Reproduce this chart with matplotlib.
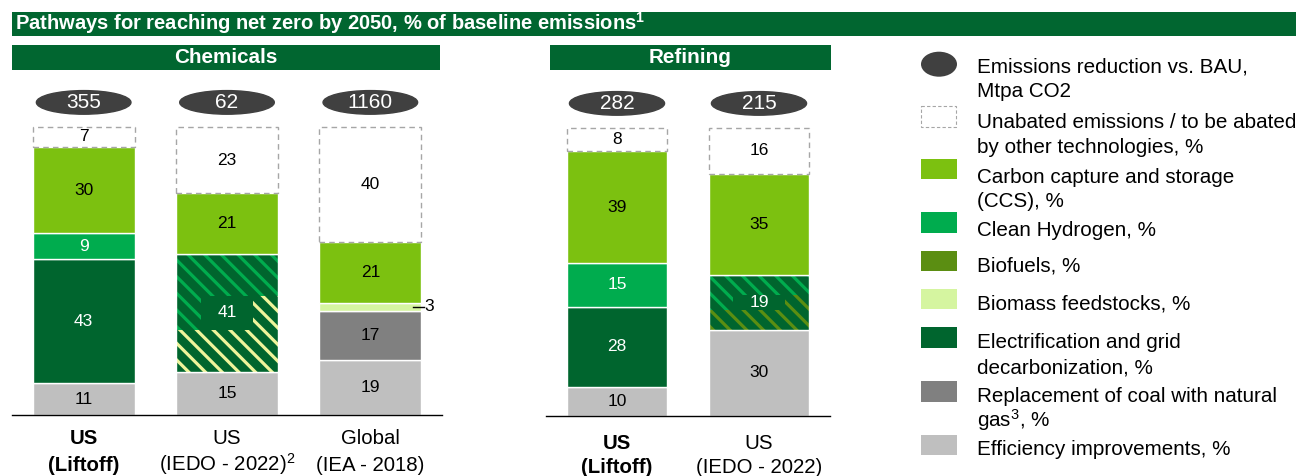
import matplotlib
matplotlib.use('Agg')
import matplotlib.pyplot as plt
from matplotlib.patches import Rectangle, Ellipse
import numpy as np

plt.rcParams['font.family'] = ['Liberation Sans', 'DejaVu Sans']
plt.rcParams['mathtext.fontset'] = 'custom'
plt.rcParams['mathtext.rm'] = 'Liberation Sans'
plt.rcParams['mathtext.bf'] = 'Liberation Sans:bold'
plt.rcParams['mathtext.default'] = 'regular'
plt.rcParams['hatch.linewidth'] = 2.3

W, H = 1299, 476

# ---------------- data ----------------
title = "Pathways for reaching net zero by 2050, % of baseline emissions$^{1}$"
chem_title = "Chemicals"
ref_title = "Refining"

chem_top_labels = ["US", "US", "Global"]
chem_bottom_labels = ["(Liftoff)", "(IEDO - 2022)$^{2}$", "(IEA - 2018)"]
chem_bold = [True, False, False]
chem_reduction = [355, 62, 1160]
chem_efficiency = [11, 15, 19]
chem_coal_to_gas = [0, 0, 17]
chem_electrification = [43, 0, 0]
chem_mixed = [0, 41, 0]
chem_biomass = [0, 0, 3]
chem_hydrogen = [9, 0, 0]
chem_ccs = [30, 21, 21]
chem_unabated = [7, 23, 40]

ref_top_labels = ["US", "US"]
ref_bottom_labels = ["(Liftoff)", "(IEDO - 2022)"]
ref_bold = [True, False]
ref_reduction = [282, 215]
ref_efficiency = [10, 30]
ref_coal_to_gas = [0, 0]
ref_electrification = [28, 0]
ref_mixed = [0, 19]
ref_biomass = [0, 0]
ref_hydrogen = [15, 0]
ref_ccs = [39, 35]
ref_unabated = [8, 16]

legend_labels = [
    ["Emissions reduction vs. BAU,", "Mtpa CO2"],
    ["Unabated emissions / to be abated", "by other technologies, %"],
    ["Carbon capture and storage", "(CCS), %"],
    ["Clean Hydrogen, %"],
    ["Biofuels, %"],
    ["Biomass feedstocks, %"],
    ["Electrification and grid", "decarbonization, %"],
    ["Replacement of coal with natural", "gas$^{3}$, %"],
    ["Efficiency improvements, %"],
]

# ---------------- styles ----------------
GREEN_HDR = '#016630'
ELEC = '#00652E'
H2 = '#00AC4E'
CCS = '#7CC110'
BIOFUEL = '#5B8E12'
BIOMASS = '#D5F5A0'
COAL = '#808080'
EFF = '#BFBFBF'
ELLIPSE = '#404040'
STRIPE_YELLOW = '#EEF59B'
DASH = '#A6A6A6'
BAR_W = 0.71
PX = 2.88  # pixels per percentage point
VAL_FS = 12.5
NUM_FS = 15
CAT_FS = 14.7
LEG_FS = 14.9

fig = plt.figure(figsize=(W / 100, H / 100), dpi=100)


def draw_panel(ax, stack, reduction, tops, bottoms, bold, mixed_colors, box_h, box_w,
               ell_w, cat_y1, cat_y2):
    n = len(reduction)
    x = np.arange(n)
    base = np.zeros(n)
    for vals, kind, color, tcolor in stack:
        vals = np.asarray(vals, float)
        for i in range(n):
            v = vals[i]
            if v <= 0:
                continue
            b = base[i]
            if kind == 'solid':
                ax.bar(x[i], v, BAR_W, b, color=color, edgecolor='white', lw=1)
            elif kind == 'unabated':
                ax.bar(x[i], v, BAR_W, b, facecolor='white', edgecolor=DASH, lw=1,
                       linestyle=(0, (4, 3)))
            elif kind == 'mixed':
                c_top, c_bot = mixed_colors
                mid = b + v / 2
                lo, hi = mid - box_h / 2, mid + box_h / 2
                ax.bar(x[i], v, BAR_W, b, color=ELEC, lw=0)
                ax.bar(x[i], b + v - lo, BAR_W, lo, facecolor=ELEC, edgecolor=c_top,
                       hatch='\\\\', lw=0)
                ax.bar(x[i], lo - b, BAR_W, b, facecolor=ELEC, edgecolor=c_bot,
                       hatch='\\\\', lw=0)
                right_w = BAR_W / 2
                ax.bar(x[i] + right_w / 2, hi - lo, right_w, lo, facecolor=ELEC,
                       edgecolor=c_bot, hatch='\\\\', lw=0)
                ax.bar(x[i], hi - lo, box_w, lo, color=ELEC, lw=0)
                ax.bar(x[i], v, BAR_W, b, fill=False, edgecolor='white', lw=1)
            # value labels
            if v < 5:
                xr = x[i] + BAR_W / 2
                ax.plot([xr - 0.06, xr + 0.02], [b + v / 2] * 2, color='black', lw=1,
                        clip_on=False)
                ax.text(xr + 0.025, b + v / 2, f"{int(v)}", ha='left', va='center',
                        fontsize=VAL_FS, color='black')
            else:
                ax.text(x[i], b + v / 2, f"{int(v)}", ha='center', va='center',
                        fontsize=VAL_FS, color=tcolor)
        base += vals
    # ellipses with reduction numbers
    for i in range(n):
        ax.add_patch(Ellipse((x[i], 108.5), ell_w, 8.2, color=ELLIPSE, clip_on=False))
        ax.text(x[i], 108.3, f"{reduction[i]}", ha='center', va='center',
                fontsize=NUM_FS, color='white')
    # category labels
    for i in range(n):
        fw = 'bold' if bold[i] else 'normal'
        ax.text(x[i], cat_y1, tops[i], ha='center', va='center', fontsize=CAT_FS,
                fontweight=fw, color='black')
        ax.text(x[i], cat_y2, bottoms[i], ha='center', va='baseline', fontsize=CAT_FS,
                fontweight=fw, color='black')
    ax.set_xlim(-0.5, n - 0.5)
    ax.set_ylim(0, 113.5)
    ax.axis('off')
    ax.plot([-0.5, n - 0.5], [0, 0], color='black', lw=1, clip_on=False)


def make_stack(eff, coal, elec, mixed, biomass, hyd, ccs, unab):
    return [
        (eff, 'solid', EFF, 'black'),
        (coal, 'solid', COAL, 'black'),
        (elec, 'solid', ELEC, 'white'),
        (mixed, 'mixed', ELEC, 'white'),
        (biomass, 'solid', BIOMASS, 'black'),
        (hyd, 'solid', H2, 'white'),
        (ccs, 'solid', CCS, 'black'),
        (unab, 'unabated', 'white', 'black'),
    ]


ax1 = fig.add_axes([12 / W, (H - 415) / H, 430 / W, 327 / H])
draw_panel(ax1,
           make_stack(chem_efficiency, chem_coal_to_gas, chem_electrification, chem_mixed,
                      chem_biomass, chem_hydrogen, chem_ccs, chem_unabated),
           chem_reduction, chem_top_labels, chem_bottom_labels, chem_bold,
           (H2, STRIPE_YELLOW), box_h=11.8, box_w=0.36, ell_w=0.66,
           cat_y1=-(438 - 415) / PX, cat_y2=-(471 - 415) / PX)

ax2 = fig.add_axes([546 / W, (H - 416) / H, 284 / W, 327 / H])
draw_panel(ax2,
           make_stack(ref_efficiency, ref_coal_to_gas, ref_electrification, ref_mixed,
                      ref_biomass, ref_hydrogen, ref_ccs, ref_unabated),
           ref_reduction, ref_top_labels, ref_bottom_labels, ref_bold,
           (H2, BIOFUEL), box_h=5.3, box_w=0.37, ell_w=0.67,
           cat_y1=-(443 - 416) / PX, cat_y2=-(473 - 416) / PX)

# ---------------- overlay: headers and legend (pixel coordinates) ----------------
ov = fig.add_axes([0, 0, 1, 1], zorder=-1)
ov.set_xlim(0, W)
ov.set_ylim(H, 0)
ov.axis('off')

ov.add_patch(Rectangle((12, 12), 1284, 24, color=GREEN_HDR, lw=0))
ov.text(15, 30, title, ha='left', va='baseline', fontsize=14.5, fontweight='bold',
        color='white')
ov.add_patch(Rectangle((12, 45), 428, 25, color=GREEN_HDR, lw=0))
ov.text(226, 57.5, chem_title, ha='center', va='center', fontsize=14.9, fontweight='bold',
        color='white')
ov.add_patch(Rectangle((550, 45), 281, 25, color=GREEN_HDR, lw=0))
ov.text(690.5, 57.5, ref_title, ha='center', va='center', fontsize=14.9, fontweight='bold',
        color='white')

leg_marker_y = [64.2, 116.5, 169, 222.5, 261, 299.2, 337.5, 391.3, 444.7]
leg_baseline = [72.7, 128.3, 182.7, 236, 271.7, 309.3, 348.3, 401.7, 455]
leg_styles = ['ellipse', 'dashed', CCS, H2, BIOFUEL, BIOMASS, ELEC, COAL, EFF]
for my, bl, st, lines in zip(leg_marker_y, leg_baseline, leg_styles, legend_labels):
    if st == 'ellipse':
        ov.add_patch(Ellipse((939, my), 36, 25, color=ELLIPSE, lw=0))
    elif st == 'dashed':
        ov.add_patch(Rectangle((921.5, my - 10.5), 35, 21, facecolor='white',
                               edgecolor=DASH, lw=0.8, linestyle=(0, (3, 2))))
    else:
        ov.add_patch(Rectangle((921, my - 10.2), 36, 20.4, color=st, lw=0))
    for k, line in enumerate(lines):
        ov.text(977, bl + 24.7 * k, line, ha='left', va='baseline', fontsize=LEG_FS,
                color='black')

fig.savefig('out.png', dpi=100)
